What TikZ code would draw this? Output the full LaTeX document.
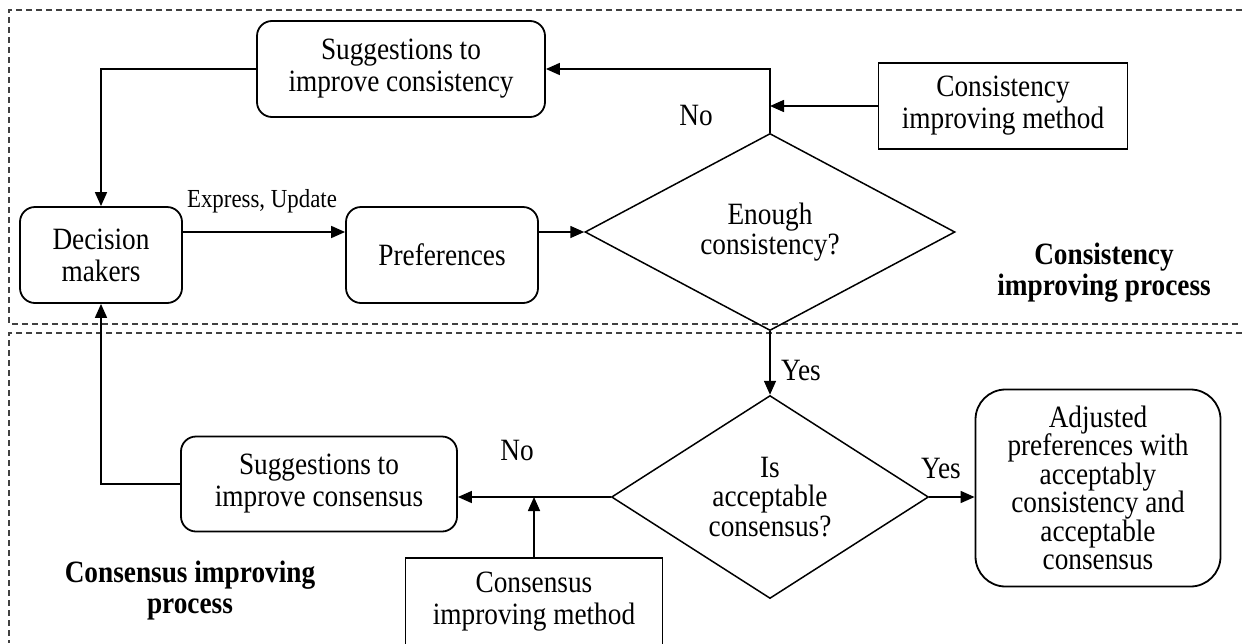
\documentclass[tikz,border=0pt]{standalone}
\usepackage{fontspec}
\setmainfont[FakeStretch=0.88]{Liberation Serif}
\usetikzlibrary{shapes.geometric,arrows.meta}

\begin{document}
\begin{tikzpicture}[x=1pt, y=-1pt,
  txt/.style={font=\fontsize{31}{32}\selectfont, align=center},
  roundbox/.style={txt, draw, line width=1.8pt, rounded corners=15pt, inner sep=0pt},
  plainbox/.style={txt, draw, line width=1.8pt, inner sep=0pt},
  decision/.style={txt, font=\fontsize{31}{29.5}\selectfont, draw, diamond, line width=1.5pt, inner sep=0pt},
  flow/.style={line width=1.6pt},
  arr/.style={flow, -{Triangle[length=14pt, width=12pt]}},
  frame/.style={black!75, line width=1.1pt, dash pattern=on 6pt off 4pt},
  procname/.style={font=\bfseries\fontsize{31}{31}\selectfont, align=center}]
  \useasboundingbox (0,0) rectangle (1242,643);

  % the two process frames
  \draw[frame] (1242,10) -- (9,10) -- (9,324) -- (1242,324);
  \draw[frame] (1242,333) -- (9,333) -- (9,643);

  % consistency part
  \node[roundbox, minimum width=288pt, minimum height=96pt] (sugcon) at (401,69) {Suggestions to\\improve consistency};
  \node[plainbox, minimum width=249pt, minimum height=86pt] (cim) at (1003,106) {Consistency\\improving method};
  \node[roundbox, minimum width=162pt, minimum height=96pt] (dm) at (101,255) {Decision\\makers};
  \node[roundbox, minimum width=192pt, minimum height=96pt] (pref) at (442,255) {Preferences};
  \node[decision, minimum width=370pt, minimum height=160pt] (enough) at (770,232) {Enough\\consistency?};
  \node[procname] (conlabel) at (1104,273) {Consistency\\improving process};

  % consensus part
  \node[roundbox, minimum width=276pt, minimum height=95pt] (sugcns) at (319,484) {Suggestions to\\improve consensus};
  \node[decision, minimum width=317pt, minimum height=203pt] (accept) at (770,497) {Is\\acceptable\\consensus?};
  \node[roundbox, rounded corners=30pt, font=\fontsize{31}{28.5}\selectfont, minimum width=245pt, minimum height=197pt] (adj) at (1098,488) {Adjusted\\preferences with\\acceptably\\consistency and\\acceptable\\consensus};
  \node[plainbox, minimum width=257pt, minimum height=88pt] (ccm) at (534,602) {Consensus\\improving method};
  \node[procname] (cnslabel) at (190,591) {Consensus improving\\process};

  % labels on the flow
  \node[font=\fontsize{26}{28}\selectfont] (exlabel) at (262,201) {Express, Update};
  \node[txt] (nocon) at (696,115) {No};
  \node[txt] (yescon) at (801,370) {Yes};
  \node[txt] (nocns) at (517,450) {No};
  \node[txt] (yescns) at (941,468) {Yes};

  % connectors
  \draw[arr] (sugcon.west) -| (dm.north);
  \draw[arr] ([yshift=23pt]dm.east) -- ([yshift=23pt]pref.west);
  \draw[arr] ([yshift=23pt]pref.east) -- (enough.west);
  \draw[arr] (enough.north) |- (sugcon.east);
  \draw[arr] (cim.west) -- (enough.north |- cim.west);
  \draw[arr] (enough.south) -- (accept.north);
  \draw[arr] (accept.west) -- (sugcns.east |- accept.west);
  \draw[arr] (ccm.north) -- (ccm.north |- accept.west);
  \draw[arr] (accept.east) -- (adj.west |- accept.east);
  \draw[arr] (sugcns.west) -| (dm.south);
\end{tikzpicture}
\end{document}
